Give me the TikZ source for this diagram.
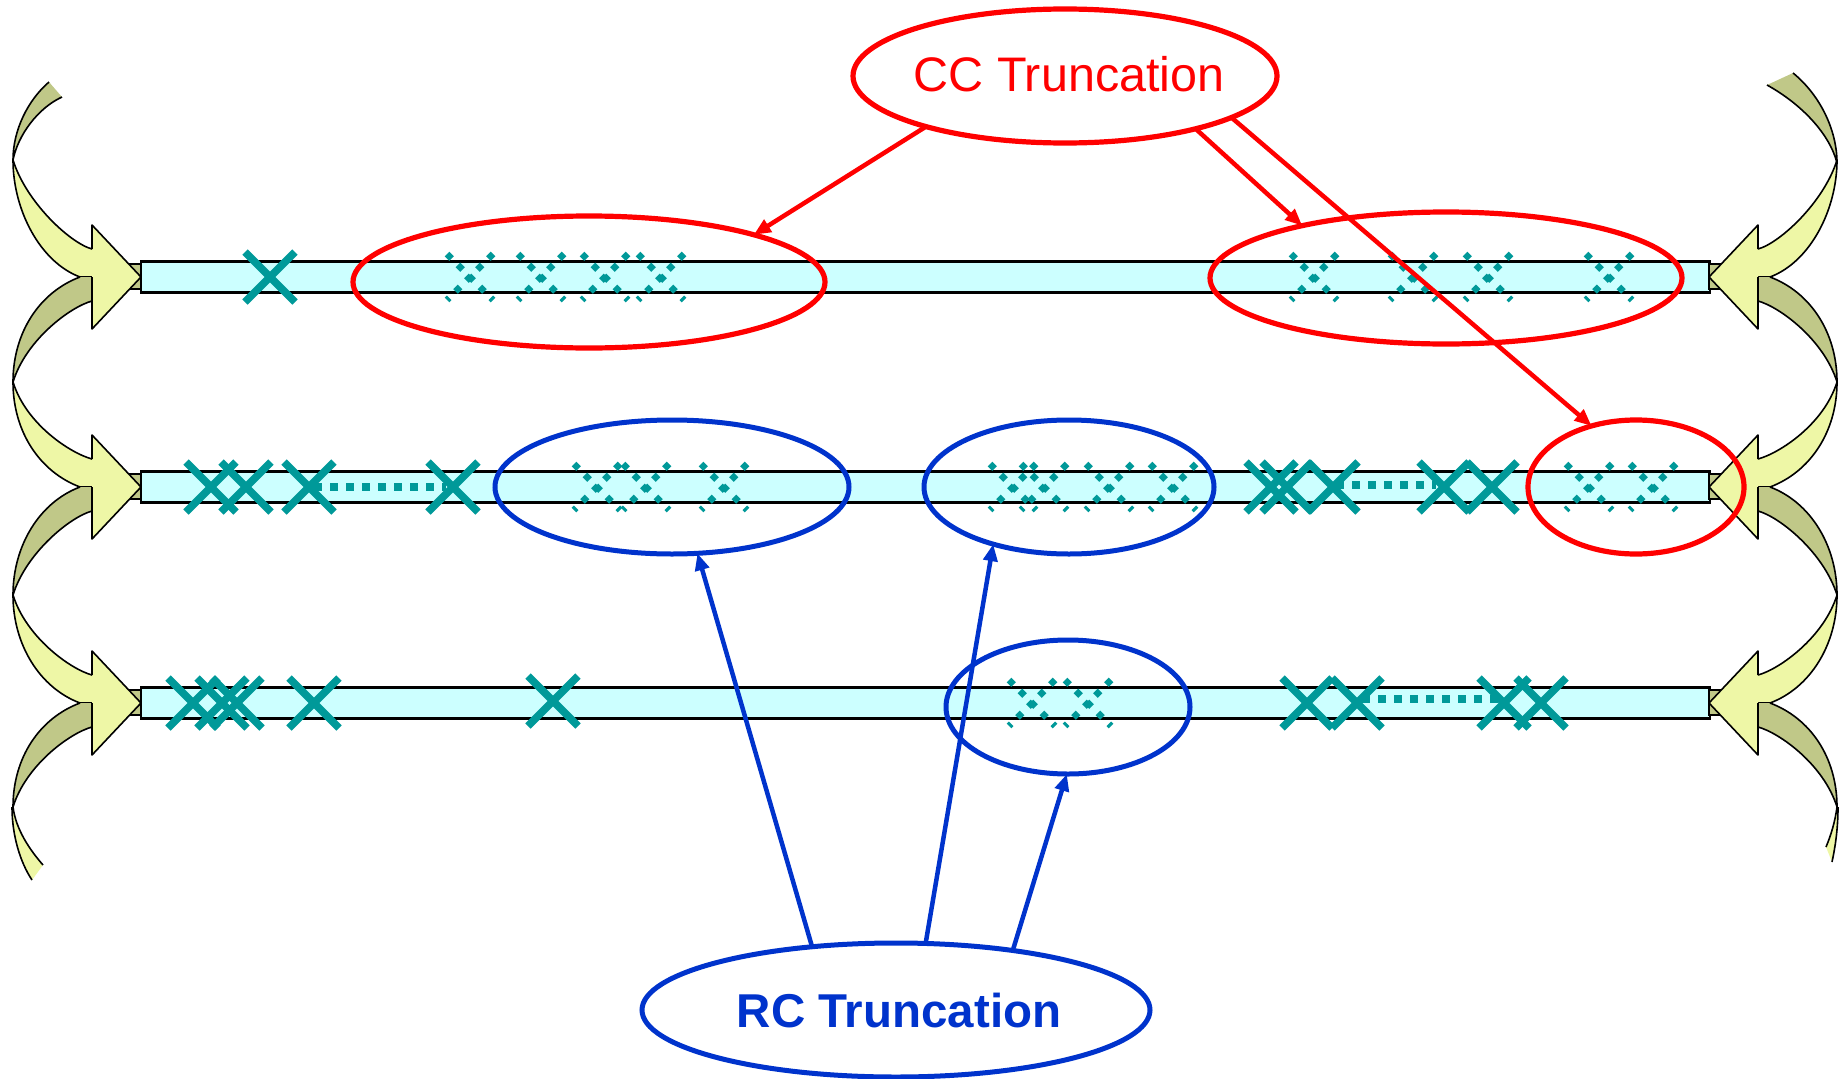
\documentclass[tikz,border=0pt]{standalone}
\usepackage{fontspec}
\setmainfont{Liberation Sans}
\usetikzlibrary{arrows.meta,shapes.geometric}
\definecolor{yel}{HTML}{EEF7A6}
\definecolor{olivedk}{HTML}{C0C888}
\definecolor{barfill}{HTML}{CCFFFF}
\definecolor{tealx}{HTML}{009999}
\definecolor{redc}{HTML}{FF0000}
\definecolor{bluec}{HTML}{0033CC}
\tikzset{
  edge/.style={draw=black, line width=1.6pt, line join=round},
  barbox/.style={draw=black, line width=2.2pt, fill=barfill, minimum width=1569pt, minimum height=31pt, inner sep=0pt, outer sep=0pt},
  solidx/.pic={\draw[tealx, line width=7.5pt] (-25,-25)--(25,25) (-25,25)--(25,-25);},
  dotx/.pic={\draw[tealx, line width=6.5pt, dash pattern=on 6.5pt off 9pt] (-23,-23)--(23,23) (23,-23)--(-23,23);},
  dotline/.style={tealx, line width=7.5pt, dash pattern=on 7.5pt off 8.5pt},
  redell/.style={ellipse, draw=redc, line width=5.2pt, inner sep=0pt, outer sep=0pt},
  blueell/.style={ellipse, draw=bluec, line width=5pt, inner sep=0pt, outer sep=0pt},
  redarr/.style={draw=redc, line width=4.5pt, -{Triangle[length=17pt,width=14pt]}},
  bluearr/.style={draw=bluec, line width=4.5pt, -{Triangle[length=17pt,width=14pt]}},
}
% ribbon pieces (left-side coordinates; mirrored for the right side)
\newcommand\darkseg[2]{% #1 = row y, #2 = twist y
  \fill[olivedk] (80,#1) .. controls (40,#1+15) and (13,#2-50) .. (13,#2) .. controls (26,#2-42) and (70,#1+30) .. (92,#1+24) -- (92,#1) -- cycle;
  \draw[edge] (80,#1) .. controls (40,#1+15) and (13,#2-50) .. (13,#2) .. controls (26,#2-42) and (70,#1+30) .. (92,#1+24);
}
\newcommand\lightseg[2]{% #1 = twist y, #2 = row y
  \fill[yel] (13,#1) .. controls (13,#1+50) and (40,#2-15) .. (80,#2) -- (92,#2) -- (92,#2-28) .. controls (70,#2-34) and (26,#1+42) .. (13,#1) -- cycle;
  \draw[edge] (13,#1) .. controls (13,#1+50) and (40,#2-15) .. (80,#2) -- (92,#2);
  \draw[edge] (92,#2-28) .. controls (70,#2-34) and (26,#1+42) .. (13,#1);
}
\newcommand\arrowhd[1]{% #1 = row y
  \filldraw[fill=olivedk, draw=black, line width=1.5pt] (127,#1-13) rectangle (141,#1+12);
  \fill[yel] (92,#1-52) -- (141,#1) -- (92,#1+52) -- cycle;
  \draw[edge] (92,#1-28) -- (92,#1-52) -- (141,#1) -- (92,#1+52) -- (92,#1);
}
\newcommand\sidecommon{%
  \lightseg{160}{277}
  \darkseg{277}{382}\lightseg{382}{487}
  \darkseg{487}{595}\lightseg{595}{703}
  \darkseg{703}{807}
}
\begin{document}
\begin{tikzpicture}[x=1pt,y=-1pt]
\useasboundingbox (0,0) rectangle (1848,1079);
% bars
\node[barbox] (bar1) at (925.5,277) {};
\node[barbox] (bar2) at (925.5,487) {};
\node[barbox] (bar3) at (925.5,703) {};
% left curved arrows
\begin{scope}
  \fill[olivedk] (49,82) .. controls (28,100) and (13,130) .. (13,160) .. controls (18,135) and (38,108) .. (62,97) -- cycle;
  \draw[edge] (49,82) .. controls (28,100) and (13,130) .. (13,160) .. controls (18,135) and (38,108) .. (62,97);
  \sidecommon
  \fill[yel] (12,807) .. controls (12,835) and (20,862) .. (32,880) -- (43,865) .. controls (30,850) and (16,830) .. (13,807) -- cycle;
  \draw[edge] (12,807) .. controls (12,835) and (20,862) .. (32,880);
  \draw[edge] (43,865) .. controls (30,850) and (16,830) .. (13,807);
  \arrowhd{277}\arrowhd{487}\arrowhd{703}
\end{scope}
% right curved arrows (mirrored)
\begin{scope}[shift={(1850,0)}, xscale=-1]
  \fill[olivedk] (57,73) .. controls (30,95) and (13,130) .. (13,163) .. controls (20,135) and (47,105) .. (83,85) -- cycle;
  \draw[edge] (57,73) .. controls (30,95) and (13,130) .. (13,163) .. controls (20,135) and (47,105) .. (83,85);
  \sidecommon
  \fill[yel] (12,807) .. controls (12,830) and (15,848) .. (18,862) -- (24,847) .. controls (19,835) and (15,822) .. (13,807) -- cycle;
  \draw[edge] (12,807) .. controls (12,830) and (15,848) .. (18,862);
  \draw[edge] (24,847) .. controls (19,835) and (15,822) .. (13,807);
  \arrowhd{277}\arrowhd{487}\arrowhd{703}
\end{scope}
% dotted joins
\draw[dotline] (314,487) -- (446,487);
\draw[dotline] (1336,485) -- (1436,485);
\draw[dotline] (1362,699) -- (1498,699);
% solid crosses
\pic at (270,277) {solidx};
\pic at (211,487) {solidx};
\pic at (246,487) {solidx};
\pic at (309,487) {solidx};
\pic at (453,487) {solidx};
\pic at (1271,487) {solidx};
\pic at (1287,487) {solidx};
\pic at (1333,487) {solidx};
\pic at (1444,487) {solidx};
\pic at (1492,487) {solidx};
\pic at (193,703) {solidx};
\pic at (222,703) {solidx};
\pic at (237,703) {solidx};
\pic at (314,703) {solidx};
\pic at (553,701) {solidx};
\pic at (1307,703) {solidx};
\pic at (1357,703) {solidx};
\pic at (1504,703) {solidx};
\pic at (1541,703) {solidx};
% dotted crosses
\foreach \xx in {470,541,605,661,1314,1413,1488,1609} {\pic at (\xx,277) {dotx};}
\foreach \xx in {597,646,724,1013,1044,1109,1173,1589,1653} {\pic at (\xx,487) {dotx};}
\foreach \xx in {1032,1088} {\pic at (\xx,703) {dotx};}
% ellipses
\node[redell, minimum width=424pt, minimum height=134pt] (cc) at (1065,76) {};
\node[text=redc, font=\fontsize{48.5}{56}\selectfont] (cctext) at (1069,74) {CC Truncation};
\node[redell, minimum width=472pt, minimum height=132pt] (re1) at (589,282) {};
\node[redell, minimum width=472pt, minimum height=132pt] (re2) at (1446,278) {};
\node[redell, minimum width=216pt, minimum height=134pt] (re3) at (1636,487) {};
\node[blueell, minimum width=354pt, minimum height=134pt] (be1) at (672,487) {};
\node[blueell, minimum width=290pt, minimum height=134pt] (be2) at (1069,487) {};
\node[blueell, minimum width=244pt, minimum height=134pt] (be3) at (1068,707) {};
\node[blueell, minimum width=508pt, minimum height=134pt] (rc) at (896,1010) {};
\node[text=bluec, font=\bfseries\fontsize{47.5}{56}\selectfont] (rctext) at (899,1011) {RC Truncation};
% connectors
\draw[redarr] (cc.200) -- (re1.16);
\draw[redarr] (cc.338) -- (re2.160);
\draw[redarr] (cc.346) -- (re3.126);
\draw[bluearr] (rc.143) -- (be1.291);
\draw[bluearr] (rc.66) -- (be2.217);
\draw[bluearr] (rc.27) -- (be3.269);
\end{tikzpicture}
\end{document}
